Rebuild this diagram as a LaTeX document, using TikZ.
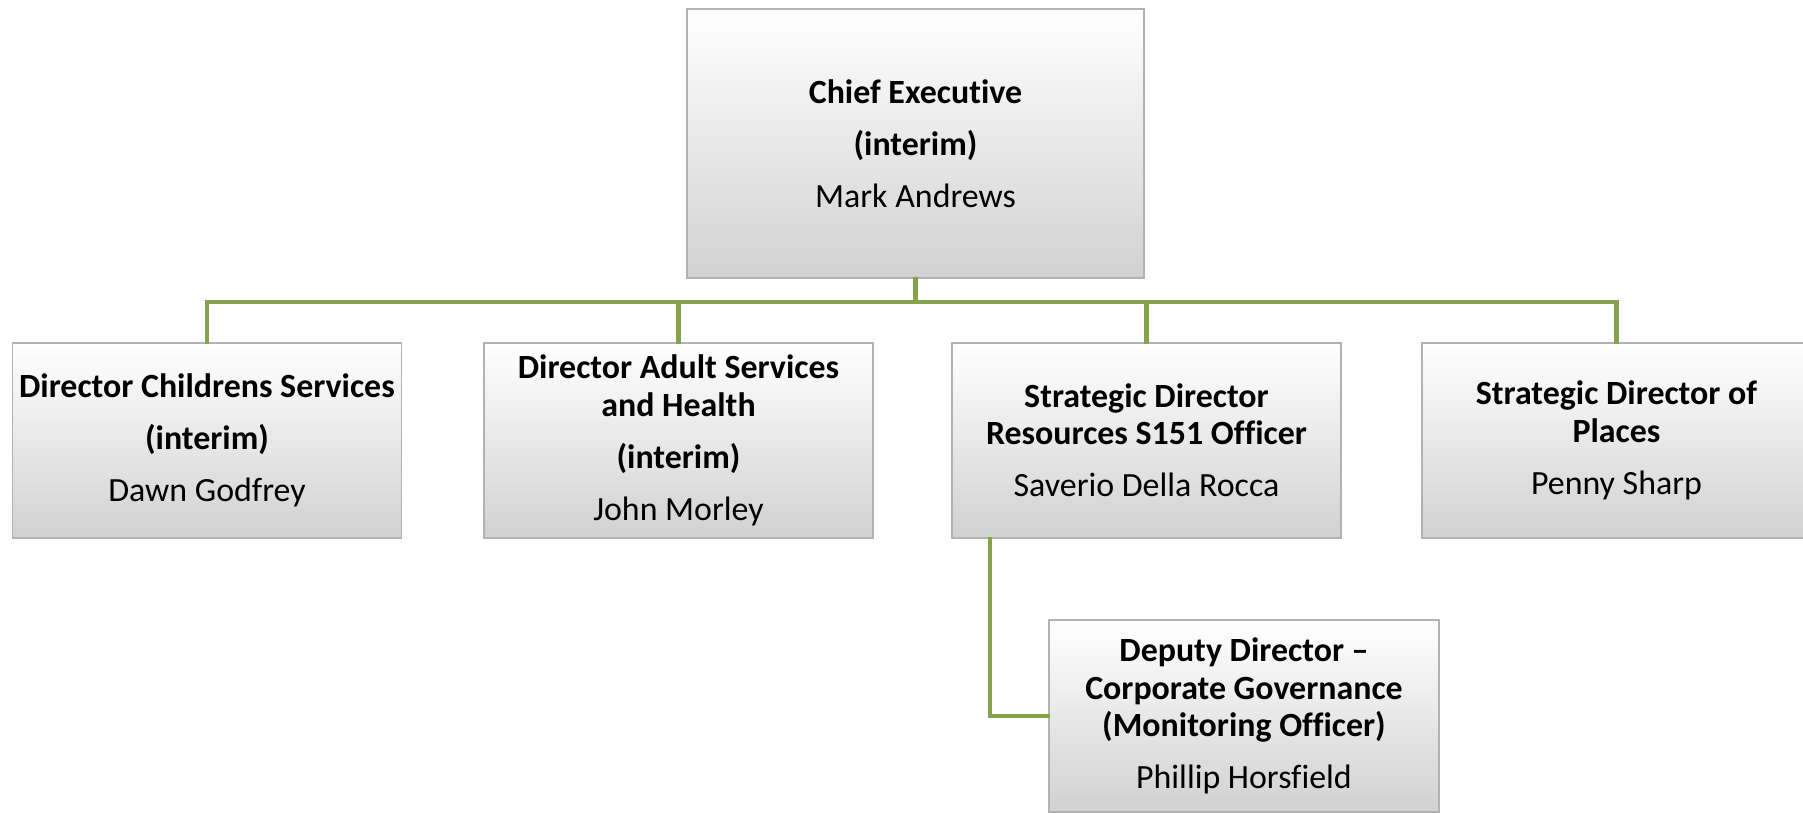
\documentclass[tikz,border=0pt]{standalone}
\usepackage{fontspec}
\setmainfont{Carlito}[Ligatures={TeX,NoCommon}]
\usetikzlibrary{positioning}
\definecolor{linkgreen}{RGB}{134,162,74}

\begin{document}
\begin{tikzpicture}[x=0.02cm,y=-0.02cm,line cap=rect,
		post/.style={draw=gray!60,line width=0.8pt,top color=white,bottom color=gray!36,
			align=center,inner sep=0pt,minimum width=7.78cm,minimum height=3.9cm,
			font=\fontsize{19.3}{21.3}\selectfont},
		link/.style={draw=linkgreen,line width=2.3pt}]
			\useasboundingbox (0,0) rectangle (1803,812);
			\node[post,minimum width=9.14cm,minimum height=5.38cm] (ceo) at (915.5,143.5)
				{\textbf{Chief Executive}\\[8.3pt]\textbf{(interim)}\\[8.3pt]Mark Andrews};
			\node[post] (dcs) at (207,440.5)
				{\textbf{Director Childrens Services}\\[8.3pt]\textbf{(interim)}\\[8.3pt]Dawn Godfrey};
			\node[post] (das) at (678.5,440.5)
				{\textbf{Director Adult Services}\\\textbf{and Health}\\[8.3pt]\textbf{(interim)}\\[8.3pt]John Morley};
			\node[post] (sdr) at (1146.5,440.5)
				{\textbf{Strategic Director}\\\textbf{Resources S151 Officer}\\[8.3pt]Saverio Della Rocca};
			\node[post] (sdp) at (1616.5,440.5)
				{\textbf{Strategic Director of}\\\textbf{Places}\\[8.3pt]Penny Sharp};
			\node[post,minimum width=7.8cm,minimum height=3.84cm] (dep) at (1244,716)
				{\textbf{Deputy Director --}\\\textbf{Corporate Governance}\\\textbf{(Monitoring Officer)}\\[8.3pt]Phillip Horsfield};
			\coordinate (bar) at (915.5,302);
			\draw[link] (ceo.south) -- (bar);
			\foreach \n in {dcs,das,sdr,sdp}
			\draw[link] (bar) -| (\n.north);
			\draw[link] ([xshift=0.78cm]sdr.south west) |- (dep.west);
		\end{tikzpicture}
\end{document}
